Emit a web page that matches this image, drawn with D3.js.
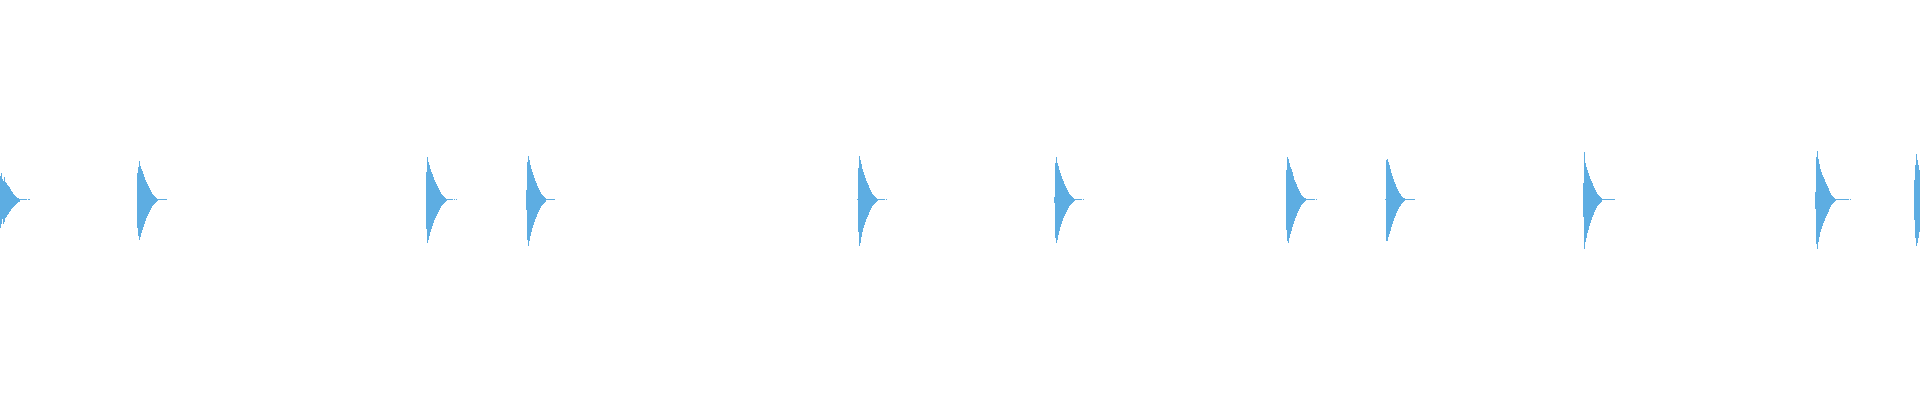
<!DOCTYPE html>
<html>
<head>
<meta charset="utf-8">
<script src="https://cdn.jsdelivr.net/npm/d3@7"></script>
<style>
  html, body { margin: 0; padding: 0; background: #fff; }
  svg { display: block; }
</style>
</head>
<body>
<div id="wave"></div>
<script>
// first column (bin index) of each hit
var hitStart = [0, 137, 426, 526, 857, 1054, 1286, 1385, 1583, 1815, 1914];

// per-bin max / min sample values of each hit
var hitMax = [
  [24,27,21,19,23,18,17,15,14,13,11,9,8,6,5,4,3,2,2,1,1,1,1,1,1,1,1,0,1,1],
  [27,33,39,34,31,29,26,23,20,18,16,14,12,10,8,6,5,4,3,2,1,1,1,1,1,1,1,1,1,1],
  [28,43,38,35,31,28,26,23,20,18,16,14,12,10,8,6,5,4,3,2,1,1,1,1,1,1,1,0,1,0,1],
  [10,38,44,40,35,31,28,25,22,19,17,14,12,10,8,6,5,4,3,2,1,1,1,1,1,1,1,1,1],
  [1,32,44,40,36,31,28,25,22,19,17,15,12,10,8,6,5,4,3,2,1,1,1,1,1,1,1,1,0,1,0],
  [3,37,43,37,34,30,27,24,21,19,16,14,12,10,8,6,5,4,3,2,1,1,1,1,1,1,1,1,0,1],
  [30,43,41,37,33,31,28,24,20,18,16,13,11,9,7,5,4,3,2,2,1,1,1,1,1,1,1,1,1,0,1],
  [1,40,41,38,35,31,27,24,21,18,16,13,11,9,7,6,4,3,2,2,1,1,1,1,1,1,1,1,1,1],
  [17,48,37,33,30,27,24,21,19,17,14,12,10,8,6,5,4,3,2,1,1,1,1,1,1,1,1,1,1,1,1,1],
  [8,43,49,41,36,31,28,25,23,21,18,16,14,12,9,7,5,4,3,2,1,1,1,1,1,1,1,1,1,1,1,1,1,1,0,1,0],
  [20,35,46,40,35,30]
];
var hitMin = [
  [-28,-24,-19,-24,-22,-18,-17,-15,-14,-12,-11,-9,-8,-7,-6,-5,-4,-3,-2,-2,0,0,0,0,0,0,0,0,0,0],
  [-28,-36,-40,-37,-33,-30,-27,-24,-21,-18,-16,-14,-12,-10,-8,-6,-5,-4,-3,-2,-1,0,0,0,0,0,0,0,0,0],
  [-29,-43,-40,-36,-32,-29,-26,-23,-20,-18,-16,-14,-12,-10,-8,-6,-5,-4,-3,-2,-1,0,0,0,0,0,0,0,0,0,0],
  [-10,-40,-46,-41,-36,-32,-28,-25,-22,-19,-17,-14,-12,-10,-8,-6,-5,-4,-3,-2,0,0,0,0,0,0,0,0,0],
  [0,-32,-46,-43,-37,-32,-28,-25,-22,-19,-17,-15,-12,-10,-8,-6,-5,-4,-3,-2,-1,0,0,0,0,0,0,0,0,0,0],
  [-3,-38,-43,-40,-35,-31,-27,-24,-21,-18,-16,-14,-12,-10,-8,-6,-5,-4,-3,-2,-1,0,0,0,0,0,0,0,0,0],
  [-30,-41,-43,-38,-34,-31,-27,-24,-21,-18,-16,-13,-11,-9,-7,-5,-4,-3,-2,-1,0,0,0,0,0,0,0,0,0,0,0],
  [0,-41,-41,-37,-34,-31,-27,-24,-21,-18,-16,-13,-11,-9,-7,-6,-4,-3,-2,-1,0,0,0,0,0,0,0,0,0,0],
  [-17,-49,-42,-38,-33,-30,-26,-23,-20,-17,-15,-12,-10,-8,-6,-5,-4,-3,-2,0,0,0,0,0,0,0,0,0,0,0,0,0],
  [-9,-44,-49,-42,-37,-32,-29,-26,-23,-21,-18,-16,-14,-12,-9,-7,-5,-4,-3,-2,-1,0,0,0,0,0,0,0,0,0,0,0,0,0,0,0,0],
  [-20,-38,-46,-43,-38,-32]
];

var width = 1920, height = 400;

// flatten hits into one bin per pixel column
var bins = [];
hitStart.forEach(function(s, i) {
  hitMax[i].forEach(function(v, j) {
    bins.push({ i: s + j, max: v, min: hitMin[i][j] });
  });
});

var x = d3.scaleLinear().domain([0, 1920]).range([0, width]);
var y = d3.scaleLinear().domain([-200, 200]).range([height, 0]);

var svg = d3.select("#wave")
  .append("svg")
    .attr("width", width)
    .attr("height", height)
    .attr("shape-rendering", "crispEdges");

svg.selectAll("rect.bin")
  .data(bins)
  .enter()
  .append("rect")
    .attr("class", "bin")
    .attr("x", function(d) { return x(d.i); })
    .attr("y", function(d) { return y(d.max); })
    .attr("width", x(1) - x(0))
    .attr("height", function(d) { return y(d.min) - y(d.max); })
    .attr("fill", "#5dade2");
</script>
</body>
</html>
